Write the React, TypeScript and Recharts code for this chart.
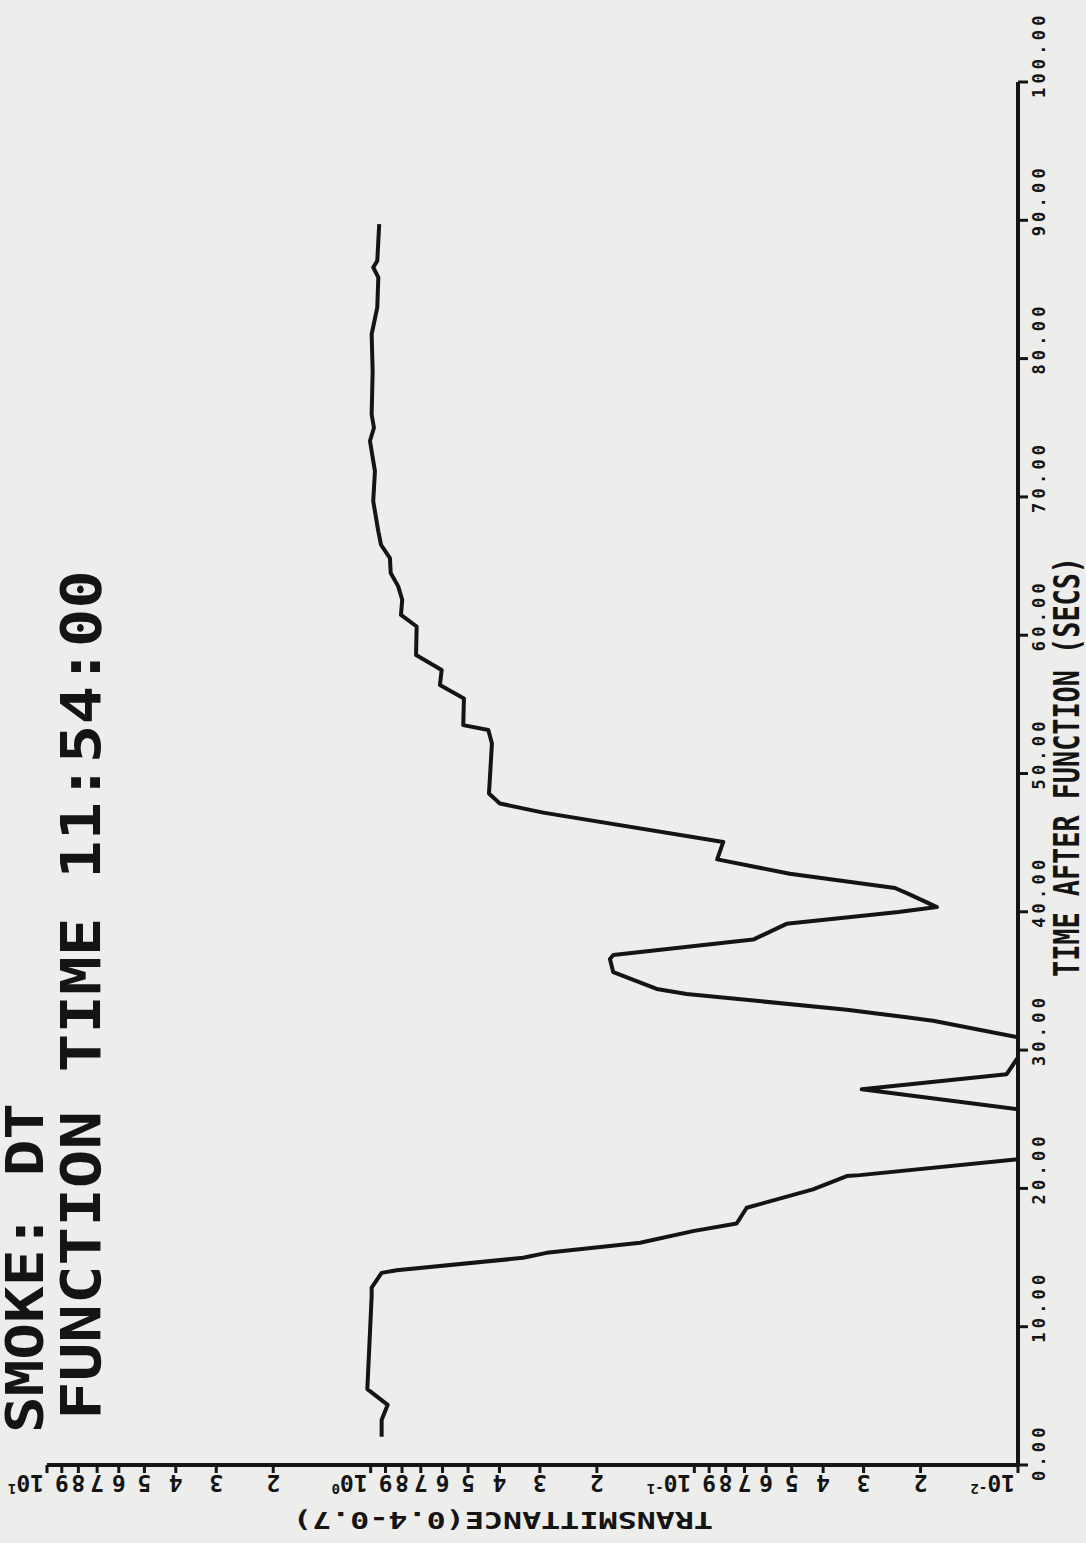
import { LineChart, Line, XAxis, YAxis } from 'recharts'

// scanned plotter chart, drawn landscape then turned a quarter turn to the left
const TIME = [
  2.05, 3.26, 4.35, 5.49, 12.2, 12.83, 13.89, 14.08, 14.98, 15.34, 16.07, 16.91, 17.46, 18.6,
  19.93, 20.89, 20.96, 22.1, 25.72, 27.17, 28.26, 29.47, 30.92, 32.12, 32.37, 32.92, 34.06,
  34.42, 35.63, 36.59, 36.88, 37.99, 39.13, 39.98, 40.34, 41.3, 41.72, 42.75, 43.79, 45.05,
  47.17, 47.83, 48.55, 52.17, 53.14, 53.5, 55.43, 56.4, 57.49, 58.57, 60.63, 61.47, 62.56,
  63.53, 64.49, 65.58, 66.54, 67.51, 69.69, 71.86, 74.04, 75.0, 75.96, 79.11, 81.76, 83.7,
  85.87, 86.59, 87.08, 89.73,
]
const TRANS = [
  0.925, 0.925, 0.886, 1.024, 0.993, 0.993, 0.925, 0.831, 0.338, 0.286, 0.147, 0.101, 0.074,
  0.0689, 0.043, 0.0338, 0.0308, 0.01, 0.01, 0.0304, 0.01084, 0.01, 0.01, 0.0183, 0.0221,
  0.0338, 0.1056, 0.1307, 0.178, 0.1823, 0.178, 0.0658, 0.0519, 0.0234, 0.0178, 0.0218,
  0.024, 0.0507, 0.085, 0.0814, 0.293, 0.399, 0.431, 0.422, 0.433, 0.5175, 0.515, 0.611,
  0.6035, 0.724, 0.721, 0.806, 0.799, 0.822, 0.867, 0.872, 0.929, 0.947, 0.982, 0.97, 1.005,
  0.977, 0.993, 0.986, 0.993, 0.954, 0.947, 0.982, 0.954, 0.941,
]
const TIME_TICKS = [0, 10, 20, 30, 40, 50, 60, 70, 80, 90, 100]
const TRANS_TICKS = [
  0.01, 0.02, 0.03, 0.04, 0.05, 0.06, 0.07, 0.08, 0.09,
  0.1, 0.2, 0.3, 0.4, 0.5, 0.6, 0.7, 0.8, 0.9,
  1, 2, 3, 4, 5, 6, 7, 8, 9, 10,
]
const TITLE_LINES = ['SMOKE: DT', 'FUNCTION TIME 11:54:00']
const X_TITLE = 'TIME AFTER FUNCTION (SECS)'
const Y_TITLE = 'TRANSMITTANCE(0.4-0.7)'

const data = TIME.map((t, i) => ({ t, v: TRANS[i] }))

const W = 1543
const H = 1086
const INK = '#141414'
const FONT = '"DejaVu Sans Mono", monospace'

const TimeTick = ({ x, y, payload }: any) => (
  <text x={x - 16} y={y + 17} fontFamily={FONT} fontWeight="bold" fontSize={17}
    letterSpacing={4.2} fill={INK}>
    {Number(payload.value).toFixed(2)}
  </text>
)

const TransTick = ({ x, y, payload }: any) => {
  const v = Number(payload.value)
  const exp = Math.floor(Math.log10(v) + 1e-9)
  const mant = Math.round(v / Math.pow(10, exp))
  const bx = x - 2
  if (mant === 1) {
    return (
      <g transform={`translate(${bx},${y}) rotate(-90)`}>
        <text x={3} y={0} fontFamily={FONT} fontWeight="bold" fontSize={23} fill={INK}>
          10<tspan dy={-9} fontSize={14}>{exp}</tspan>
        </text>
      </g>
    )
  }
  return (
    <g transform={`translate(${bx},${y}) rotate(-90)`}>
      <text x={0} y={0} textAnchor="middle" fontFamily={FONT} fontWeight="bold" fontSize={23} fill={INK}>
        {mant}
      </text>
    </g>
  )
}

export default function App() {
  return (
    <div style={{ position: 'absolute', left: 0, top: 0, width: H, height: W, background: '#ededeb', overflow: 'hidden' }}>
      <div style={{ position: 'absolute', left: 0, top: 0, width: W, height: H,
        transformOrigin: '0 0', transform: `translate(0px, ${W}px) rotate(-90deg)` }}>
        <LineChart width={W} height={H} data={data} margin={{ top: 47, right: 82, bottom: 8, left: 8 }}>
          <XAxis type="number" dataKey="t" domain={[0, 100]} ticks={TIME_TICKS} interval={0}
            height={60} tickSize={10} tickMargin={0}
            axisLine={{ stroke: INK, strokeWidth: 4 }} tickLine={{ stroke: INK, strokeWidth: 3 }}
            tick={(p: any) => <TimeTick {...p} />} />
          <YAxis type="number" scale="log" domain={[0.01, 10]} ticks={TRANS_TICKS} interval={0}
            width={70} tickSize={8} tickMargin={0}
            axisLine={{ stroke: INK, strokeWidth: 4 }} tickLine={{ stroke: INK, strokeWidth: 3 }}
            tick={(p: any) => <TransTick {...p} />} />
          <Line type="linear" dataKey="v" stroke={INK} strokeWidth={4} dot={false}
            strokeLinejoin="round" isAnimationActive={false} />
        </LineChart>
        <svg width={W} height={H} style={{ position: 'absolute', left: 0, top: 0, pointerEvents: 'none' }}>
          <text x={110} y={43} fontFamily={FONT} fontWeight="bold" fontSize={52} fill={INK}
            textLength={330} lengthAdjust="spacingAndGlyphs">{TITLE_LINES[0]}</text>
          <text x={123} y={100} fontFamily={FONT} fontWeight="bold" fontSize={55} fill={INK}
            textLength={850} lengthAdjust="spacingAndGlyphs">{TITLE_LINES[1]}</text>
          <text x={566} y={1079} fontFamily={FONT} fontWeight="bold" fontSize={35} fill={INK}
            textLength={420} lengthAdjust="spacingAndGlyphs">{X_TITLE}</text>
          <text x={31} y={713} transform="rotate(-90 31 713)" fontFamily={FONT} fontWeight="bold"
            fontSize={23} fill={INK} textLength={420} lengthAdjust="spacingAndGlyphs">{Y_TITLE}</text>
        </svg>
      </div>
    </div>
  )
}
